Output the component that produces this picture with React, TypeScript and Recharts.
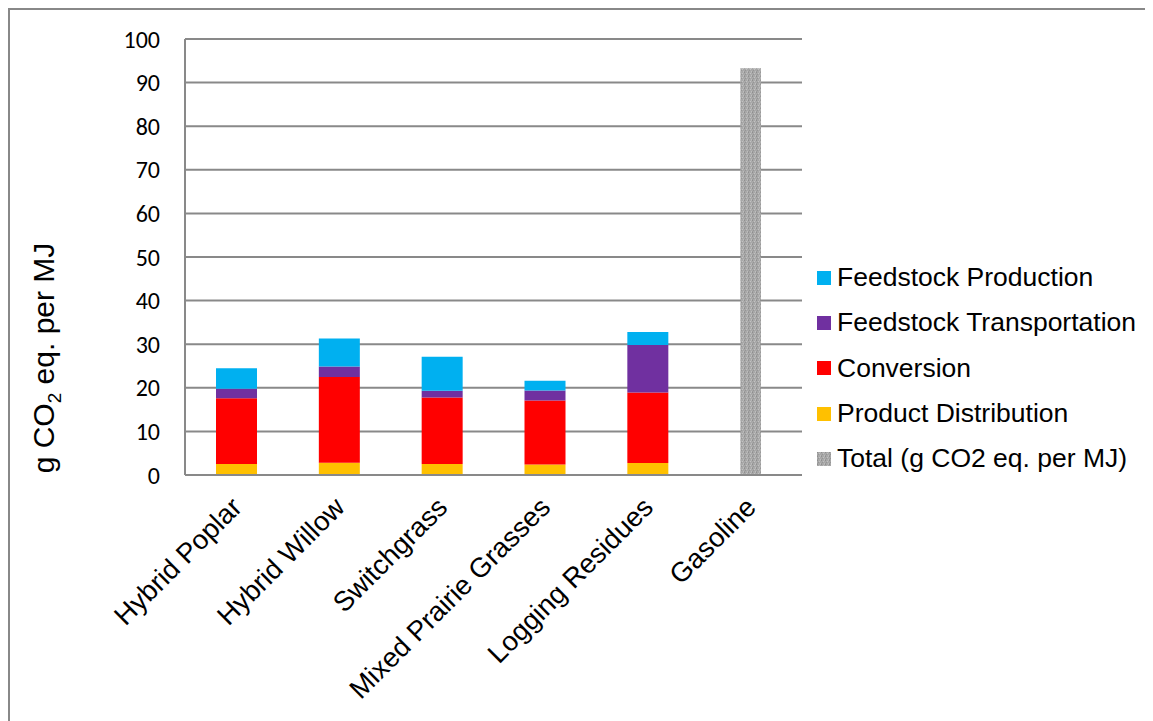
import React from 'react';
import { ComposedChart, Bar, XAxis, YAxis, CartesianGrid, Rectangle } from 'recharts';

const categories = ['Hybrid Poplar', 'Hybrid Willow', 'Switchgrass', 'Mixed Prairie Grasses', 'Logging Residues', 'Gasoline'];
const productDistribution = [2.5, 2.8, 2.5, 2.4, 2.75, null];
const conversion = [15.1, 19.7, 15.3, 14.7, 16.15, null];
const feedstockTransportation = [2.2, 2.4, 1.5, 2.3, 10.9, null];
const feedstockProduction = [4.7, 6.4, 7.8, 2.2, 3.0, null];
const total = [null, null, null, null, null, 93.3];
const yTicks = [0, 10, 20, 30, 40, 50, 60, 70, 80, 90, 100];

const data = categories.map((name, i) => ({
  name,
  productDistribution: productDistribution[i],
  conversion: conversion[i],
  feedstockTransportation: feedstockTransportation[i],
  feedstockProduction: feedstockProduction[i],
  total: total[i],
}));

// legend order as in the original (top to bottom)
const legendItems = [
  { name: 'Feedstock Production', color: '#00B0F0' },
  { name: 'Feedstock Transportation', color: '#7030A0' },
  { name: 'Conversion', color: '#FF0000' },
  { name: 'Product Distribution', color: '#FFC000' },
  { name: 'Total (g CO2 eq. per MJ)', color: 'url(#speckle)' },
];

const gridColor = '#898989';
const labelFont = '"Liberation Sans", Arial, sans-serif';

const CategoryTick = (props: any) => {
  const { x, y, payload } = props;
  const ax = x + 7;
  const ay = y + 26;
  return (
    <text
      x={ax}
      y={ay}
      transform={`rotate(-45, ${ax}, ${ay})`}
      textAnchor="end"
      fontSize={27.5}
      fontFamily={labelFont}
      fill="#000"
    >
      {payload.value}
    </text>
  );
};

// the gasoline total is drawn narrower, centred in its category
const TotalShape = (props: any) => {
  const { x, y, width, height } = props;
  if (!height) return null;
  return <Rectangle x={x + width / 4} y={y} width={width / 2} height={height} fill="url(#speckle)" />;
};

const App: React.FC = () => {
  return (
    <div
      style={{
        position: 'relative',
        width: 1160,
        height: 720,
        borderLeft: '2px solid #888',
        borderTop: '2px solid #888',
        boxSizing: 'border-box',
        background: '#fff',
      }}
    >
      <svg width={0} height={0} style={{ position: 'absolute' }}>
        <defs>
          <pattern id="speckle" width={4} height={4} patternUnits="userSpaceOnUse">
            <rect width={4} height={4} fill="#A8A8A8" />
            <rect x={0} y={0} width={1} height={1} fill="#8E8E8E" />
            <rect x={2} y={1} width={1} height={1} fill="#C2C2C2" />
            <rect x={1} y={2} width={1} height={1} fill="#959595" />
            <rect x={3} y={3} width={1} height={1} fill="#BDBDBD" />
            <rect x={3} y={0} width={1} height={1} fill="#B4B4B4" />
            <rect x={0} y={3} width={1} height={1} fill="#9A9A9A" />
          </pattern>
        </defs>
      </svg>
      <div style={{ position: 'absolute', left: -2, top: -2 }}>
        <ComposedChart
          width={1145}
          height={713}
          data={data}
          margin={{ top: 31, right: 351, bottom: 0, left: 117 }}
          barSize={41}
        >
          <CartesianGrid horizontal vertical={false} stroke={gridColor} strokeWidth={2} />
          <XAxis
            dataKey="name"
            height={246}
            interval={0}
            tickLine={false}
            axisLine={{ stroke: gridColor, strokeWidth: 2 }}
            tick={<CategoryTick />}
          />
          <YAxis
            domain={[0, 100]}
            ticks={yTicks}
            width={60}
            tickLine={false}
            tickSize={0}
            tickMargin={25}
            axisLine={{ stroke: gridColor, strokeWidth: 2 }}
            tick={{ fontSize: 24, fill: '#000', fontFamily: 'Carlito, Calibri, Lato, sans-serif' }}
            label={() => {
              const cx = 46;
              const cy = 350;
              return (
                <text
                  x={cx}
                  y={cy}
                  transform={`rotate(-90, ${cx}, ${cy})`}
                  textAnchor="middle"
                  fontSize={30}
                  fontFamily={labelFont}
                  fill="#000"
                >
                  g CO
                  <tspan fontSize={19} dy={7}>2</tspan>
                  <tspan dy={-7}> eq. per MJ</tspan>
                </text>
              );
            }}
          />
          <YAxis
            yAxisId="frame"
            orientation="right"
            width={0}
            domain={[0, 100]}
            tick={false}
            tickLine={false}
            axisLine={{ stroke: gridColor, strokeWidth: 2 }}
          />
          <Bar dataKey="productDistribution" name="Product Distribution" stackId="a" fill="#FFC000" isAnimationActive={false} />
          <Bar dataKey="conversion" name="Conversion" stackId="a" fill="#FF0000" isAnimationActive={false} />
          <Bar dataKey="feedstockTransportation" name="Feedstock Transportation" stackId="a" fill="#7030A0" isAnimationActive={false} />
          <Bar dataKey="feedstockProduction" name="Feedstock Production" stackId="a" fill="#00B0F0" isAnimationActive={false} />
          <Bar dataKey="total" name="Total (g CO2 eq. per MJ)" stackId="a" fill="#A8A8A8" shape={<TotalShape />} isAnimationActive={false} />
        </ComposedChart>
      </div>
      <div style={{ position: 'absolute', left: 807, top: 245, fontFamily: labelFont, fontSize: 26.5, color: '#000' }}>
        {legendItems.map((item) => (
          <div key={item.name} style={{ display: 'flex', alignItems: 'center', height: 45.3, whiteSpace: 'nowrap' }}>
            <svg width={14} height={14} style={{ marginRight: 6 }}>
              <rect width={14} height={14} fill={item.color} />
            </svg>
            <span>{item.name}</span>
          </div>
        ))}
      </div>
    </div>
  );
};

export default App;
